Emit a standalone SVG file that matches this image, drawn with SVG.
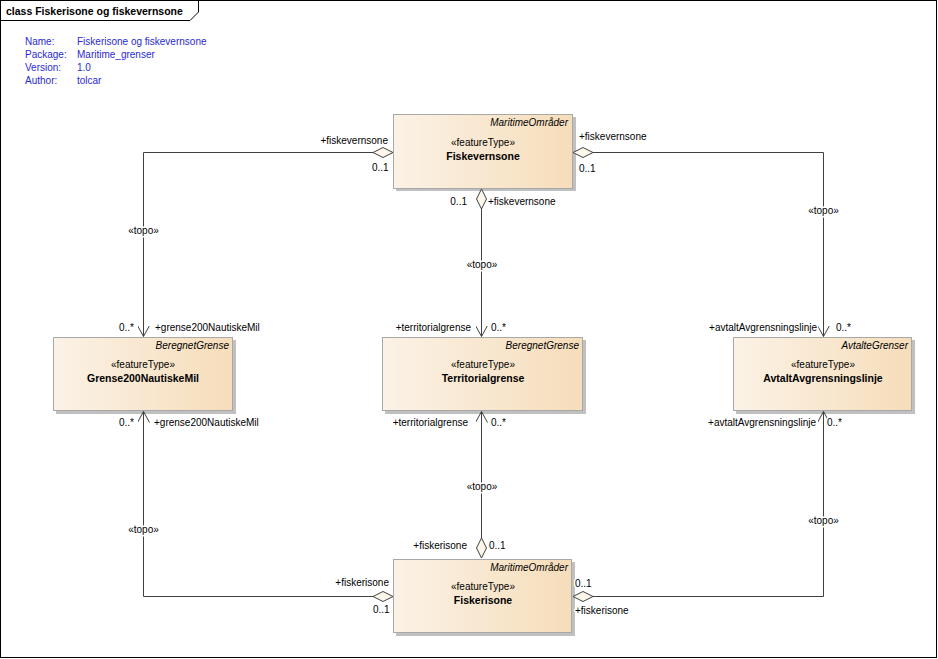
<svg xmlns="http://www.w3.org/2000/svg" width="938" height="659" viewBox="0 0 938 659">
<defs>
<linearGradient id="g" x1="0" y1="0" x2="1" y2="0">
<stop offset="0" stop-color="#fbf2e6"/>
<stop offset="1" stop-color="#f6ddba"/>
</linearGradient>
<marker id="arr" viewBox="0 0 12 12" refX="11" refY="6" markerWidth="12" markerHeight="12" markerUnits="userSpaceOnUse" orient="auto">
<path d="M0,0 L11,6 L0,12" fill="none" stroke="#404040" stroke-width="1"/>
</marker>
</defs>
<style>
text{font-family:"Liberation Sans",Arial,sans-serif;font-size:10px;fill:#000}
.meta{fill:#2a2ad0}
.box{fill:url(#g);stroke:#a8a8a8;stroke-width:1}
.sh{fill:#c0c0c0}
.st{font-style:italic;text-anchor:end}
.ft{text-anchor:middle}
.nm{text-anchor:middle;font-weight:bold;font-size:10.5px}
.ln{fill:none;stroke:#404040;stroke-width:1}
.dia{fill:#fdf6ea;stroke:#404040;stroke-width:1}
.lb{paint-order:stroke;stroke:#fff;stroke-width:3px;stroke-linejoin:round}
.e{text-anchor:end}
.m{text-anchor:middle}
</style>
<rect x="0.5" y="0.5" width="936" height="657" fill="#fff" stroke="#000" stroke-width="1"/>
<path d="M0.5,20.5 H190 L198.5,12 V0.5" fill="none" stroke="#000" stroke-width="1"/>
<text x="6" y="15" style="font-weight:bold;font-size:10.5px">class Fiskerisone og fiskevernsone</text>
<g id="meta">
<text class="meta" x="25" y="45">Name:</text><text class="meta" x="77" y="45">Fiskerisone og fiskevernsone</text>
<text class="meta" x="25" y="58">Package:</text><text class="meta" x="77" y="58">Maritime_grenser</text>
<text class="meta" x="25" y="71">Version:</text><text class="meta" x="77" y="71">1.0</text>
<text class="meta" x="25" y="84">Author:</text><text class="meta" x="77" y="84">tolcar</text>
</g>
<g id="Fiskevernsone">
<rect class="sh" x="396" y="117" width="180" height="74"/>
<rect class="box" x="393.5" y="114.5" width="179" height="74"/>
<text class="st" x="568" y="126">MaritimeOmråder</text>
<text class="ft" x="483" y="145.5">«featureType»</text>
<text class="nm" x="483" y="159.5">Fiskevernsone</text>
</g>
<g id="Grense200NautiskeMil">
<rect class="sh" x="56" y="340" width="180" height="74"/>
<rect class="box" x="53.5" y="337.5" width="179" height="73"/>
<text class="st" x="229" y="349">BeregnetGrense</text>
<text class="ft" x="143" y="368">«featureType»</text>
<text class="nm" x="143" y="382">Grense200NautiskeMil</text>
</g>
<g id="Territorialgrense">
<rect class="sh" x="385" y="340" width="201" height="74"/>
<rect class="box" x="382.5" y="337.5" width="200" height="73"/>
<text class="st" x="579" y="349">BeregnetGrense</text>
<text class="ft" x="483" y="368">«featureType»</text>
<text class="nm" x="483" y="382">Territorialgrense</text>
</g>
<g id="AvtaltAvgrensningslinje">
<rect class="sh" x="736" y="340" width="179" height="74"/>
<rect class="box" x="733.5" y="337.5" width="178" height="73"/>
<text class="st" x="908" y="349">AvtalteGrenser</text>
<text class="ft" x="823" y="368">«featureType»</text>
<text class="nm" x="823" y="382">AvtaltAvgrensningslinje</text>
</g>
<g id="Fiskerisone">
<rect class="sh" x="396" y="562" width="179" height="74"/>
<rect class="box" x="393.5" y="559.5" width="178" height="73"/>
<text class="st" x="568" y="571">MaritimeOmråder</text>
<text class="ft" x="483" y="590">«featureType»</text>
<text class="nm" x="483" y="604">Fiskerisone</text>
</g>
<g id="connectors">
<path class="ln" d="M373,152.5 H143.5 V336.5" marker-end="url(#arr)"/>
<path class="ln" d="M593,152.5 H823.5 V336.5" marker-end="url(#arr)"/>
<path class="ln" d="M481.5,209 V336.5" marker-end="url(#arr)"/>
<path class="ln" d="M481.5,538 V411.5" marker-end="url(#arr)"/>
<path class="ln" d="M373,596.5 H143.5 V411.5" marker-end="url(#arr)"/>
<path class="ln" d="M593,596.5 H823.5 V411.5" marker-end="url(#arr)"/>
<path class="dia" d="M393,152.5 L383,147.5 L373,152.5 L383,157.5 Z"/>
<path class="dia" d="M573,152.5 L583,147.5 L593,152.5 L583,157.5 Z"/>
<path class="dia" d="M481.5,189 L486.5,199 L481.5,209 L476.5,199 Z"/>
<path class="dia" d="M481.5,558 L486.5,548 L481.5,538 L476.5,548 Z"/>
<path class="dia" d="M393,596.5 L383,591.5 L373,596.5 L383,601.5 Z"/>
<path class="dia" d="M573,596.5 L583,591.5 L593,596.5 L583,601.5 Z"/>
<text class="lb m" x="143.5" y="234">«topo»</text>
<text class="lb m" x="823.5" y="214">«topo»</text>
<text class="lb m" x="482" y="268">«topo»</text>
<text class="lb m" x="482" y="490">«topo»</text>
<text class="lb m" x="143.5" y="533">«topo»</text>
<text class="lb m" x="823.5" y="524">«topo»</text>
<text class="lb e" x="388" y="144">+fiskevernsone</text>
<text class="lb" x="372" y="170.5">0..1</text>
<text class="lb e" x="134" y="330.5">0..*</text>
<text class="lb" x="155" y="330.5">+grense200NautiskeMil</text>
<text class="lb" x="579" y="139.5">+fiskevernsone</text>
<text class="lb" x="579" y="172">0..1</text>
<text class="lb e" x="817" y="330.5">+avtaltAvgrensningslinje</text>
<text class="lb" x="836" y="330.5">0..*</text>
<text class="lb e" x="467" y="204.5">0..1</text>
<text class="lb" x="488" y="204.5">+fiskevernsone</text>
<text class="lb e" x="471" y="330.5">+territorialgrense</text>
<text class="lb" x="491" y="330.5">0..*</text>
<text class="lb e" x="468" y="426">+territorialgrense</text>
<text class="lb" x="491" y="426">0..*</text>
<text class="lb e" x="467" y="548.5">+fiskerisone</text>
<text class="lb" x="489" y="548.5">0..1</text>
<text class="lb e" x="134" y="425.5">0..*</text>
<text class="lb" x="154" y="425.5">+grense200NautiskeMil</text>
<text class="lb e" x="389" y="586">+fiskerisone</text>
<text class="lb" x="373" y="612.5">0..1</text>
<text class="lb" x="575" y="586.5">0..1</text>
<text class="lb" x="575" y="614">+fiskerisone</text>
<text class="lb e" x="816" y="425.5">+avtaltAvgrensningslinje</text>
<text class="lb" x="827" y="425.5">0..*</text>
</g>
</svg>
